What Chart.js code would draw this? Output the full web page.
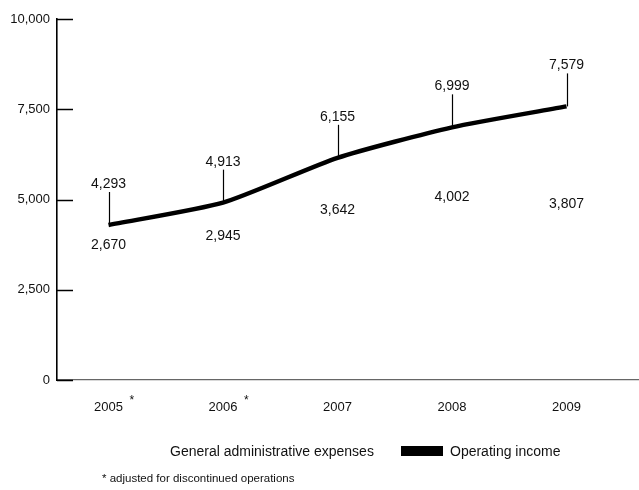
<!DOCTYPE html>
<html>
<head>
<meta charset="utf-8">
<script src="https://cdn.jsdelivr.net/npm/chart.js@4.4.1/dist/chart.umd.min.js"></script>
<style>
  html, body { margin: 0; padding: 0; background: #fff; }
  #wrap { width: 639px; height: 490px; }
</style>
</head>
<body>
<div id="wrap"><canvas id="c" width="639" height="490"></canvas></div>
<script>
// Fiscal years shown on the x axis; years restated are flagged with an asterisk
const years = [2005, 2006, 2007, 2008, 2009];
const adjustedYears = [2005, 2006];

// Values in thousands
const adminExpenses = [2670, 2945, 3642, 4002, 3807];
const operatingIncome = [4293, 4913, 6155, 6999, 7579];

// Value axis ticks
const yTicks = [0, 2500, 5000, 7500, 10000];

const seriesNames = ['General administrative expenses', 'Operating income'];
const footnote = '* adjusted for discontinued operations';

const FONT = "'Liberation Sans', Arial, Helvetica, sans-serif";
const INK = '#111';

Chart.defaults.font.family = FONT;
Chart.defaults.font.size = 13;
Chart.defaults.color = INK;

const toPoints = vals => years.map((x, i) => ({ x, y: vals[i] }));
const fmt = v => Number(v).toLocaleString('en-US');

// Draws the value labels, leader lines, inner tick marks, year asterisks, legend and footnote
const decor = {
  id: 'decor',
  afterDatasetsDraw(chart) {
    const { ctx, chartArea, scales } = chart;
    const xs = scales.x, ys = scales.y;
    ctx.save();

    // short tick marks pointing into the plot area
    ctx.strokeStyle = '#000';
    ctx.lineWidth = 1.5;
    ys.ticks.forEach(t => {
      const y = Math.round(ys.getPixelForValue(t.value)) + 0.5;
      ctx.beginPath();
      ctx.moveTo(chartArea.left, y);
      ctx.lineTo(chartArea.left + 16, y);
      ctx.stroke();
    });

    // value labels above each point, with leader lines for the drawn series
    ctx.font = '14px ' + FONT;
    ctx.fillStyle = INK;
    ctx.textAlign = 'center';
    ctx.textBaseline = 'middle';
    chart.data.datasets.forEach((ds, di) => {
      const meta = chart.getDatasetMeta(di);
      meta.data.forEach((el, i) => {
        const ty = el.y - ds.labelLift;
        ctx.fillText(fmt(ds.data[i].y), el.x, ty);
        if (ds.leader) {
          ctx.strokeStyle = '#000';
          ctx.lineWidth = 1.2;
          ctx.beginPath();
          ctx.moveTo(Math.round(el.x) + 0.5, ty + 8);
          ctx.lineTo(Math.round(el.x) + 0.5, el.y);
          ctx.stroke();
        }
      });
    });

    // asterisks after restated years
    ctx.textAlign = 'left';
    ctx.textBaseline = 'alphabetic';
    adjustedYears.forEach(yr => {
      ctx.font = '13px ' + FONT;
      const w = ctx.measureText(String(yr)).width;
      const x = xs.getPixelForValue(yr) + w / 2 + 6.5;
      ctx.font = '12px ' + FONT;
      ctx.fillText('*', x, 404);
    });

    // legend
    ctx.font = '14px ' + FONT;
    const legendItems = [
      { textX: 170, swatchX: null },
      { textX: 450, swatchX: 401 }
    ];
    chart.data.datasets.forEach((ds, di) => {
      const it = legendItems[di];
      if (it.swatchX !== null) {
        ctx.fillStyle = ds.legendColor;
        ctx.fillRect(it.swatchX, 446, 42, 10);
      }
      ctx.fillStyle = INK;
      ctx.fillText(ds.label, it.textX, 456);
    });

    // footnote
    ctx.font = '11.5px ' + FONT;
    ctx.fillText(footnote, 102, 482);
    ctx.restore();
  }
};

new Chart(document.getElementById('c'), {
  type: 'line',
  data: {
    datasets: [
      {
        label: seriesNames[0],
        data: toPoints(adminExpenses),
        showLine: false,
        pointRadius: 0,
        borderColor: '#fff',
        backgroundColor: '#fff',
        legendColor: '#fff',
        labelLift: 38,
        leader: false
      },
      {
        label: seriesNames[1],
        data: toPoints(operatingIncome),
        borderColor: '#000',
        backgroundColor: '#000',
        legendColor: '#000',
        borderWidth: 4.5,
        borderJoinStyle: 'round',
        tension: 0.2,
        pointRadius: 0,
        labelLift: 41,
        leader: true
      }
    ]
  },
  options: {
    responsive: false,
    animation: false,
    devicePixelRatio: 1,
    layout: { padding: { top: 19, right: 0, bottom: 70, left: 0 } },
    plugins: {
      legend: { display: false },
      tooltip: { enabled: false }
    },
    scales: {
      x: {
        type: 'linear',
        min: 2004.55,
        max: 2009.633,
        afterBuildTicks: s => { s.ticks = years.map(v => ({ value: v })); },
        afterFit: s => { s.height = 40; },
        ticks: {
          callback: v => String(v),
          autoSkip: false,
          maxRotation: 0,
          padding: 20,
          font: { size: 13 },
          color: INK
        },
        grid: { display: true, drawOnChartArea: false, drawTicks: false, color: 'rgba(0,0,0,0)' },
        border: { display: true, color: '#666', width: 1.2 }
      },
      y: {
        type: 'linear',
        min: 0,
        max: 10000,
        afterBuildTicks: s => { s.ticks = yTicks.map(v => ({ value: v })); },
        afterFit: s => { s.width = 57; },
        ticks: {
          callback: v => fmt(v),
          padding: 7,
          font: { size: 13 },
          color: INK
        },
        grid: { display: true, drawOnChartArea: false, drawTicks: false, color: 'rgba(0,0,0,0)' },
        border: { display: true, color: '#000', width: 1.6 }
      }
    }
  },
  plugins: [decor]
});
</script>
</body>
</html>
